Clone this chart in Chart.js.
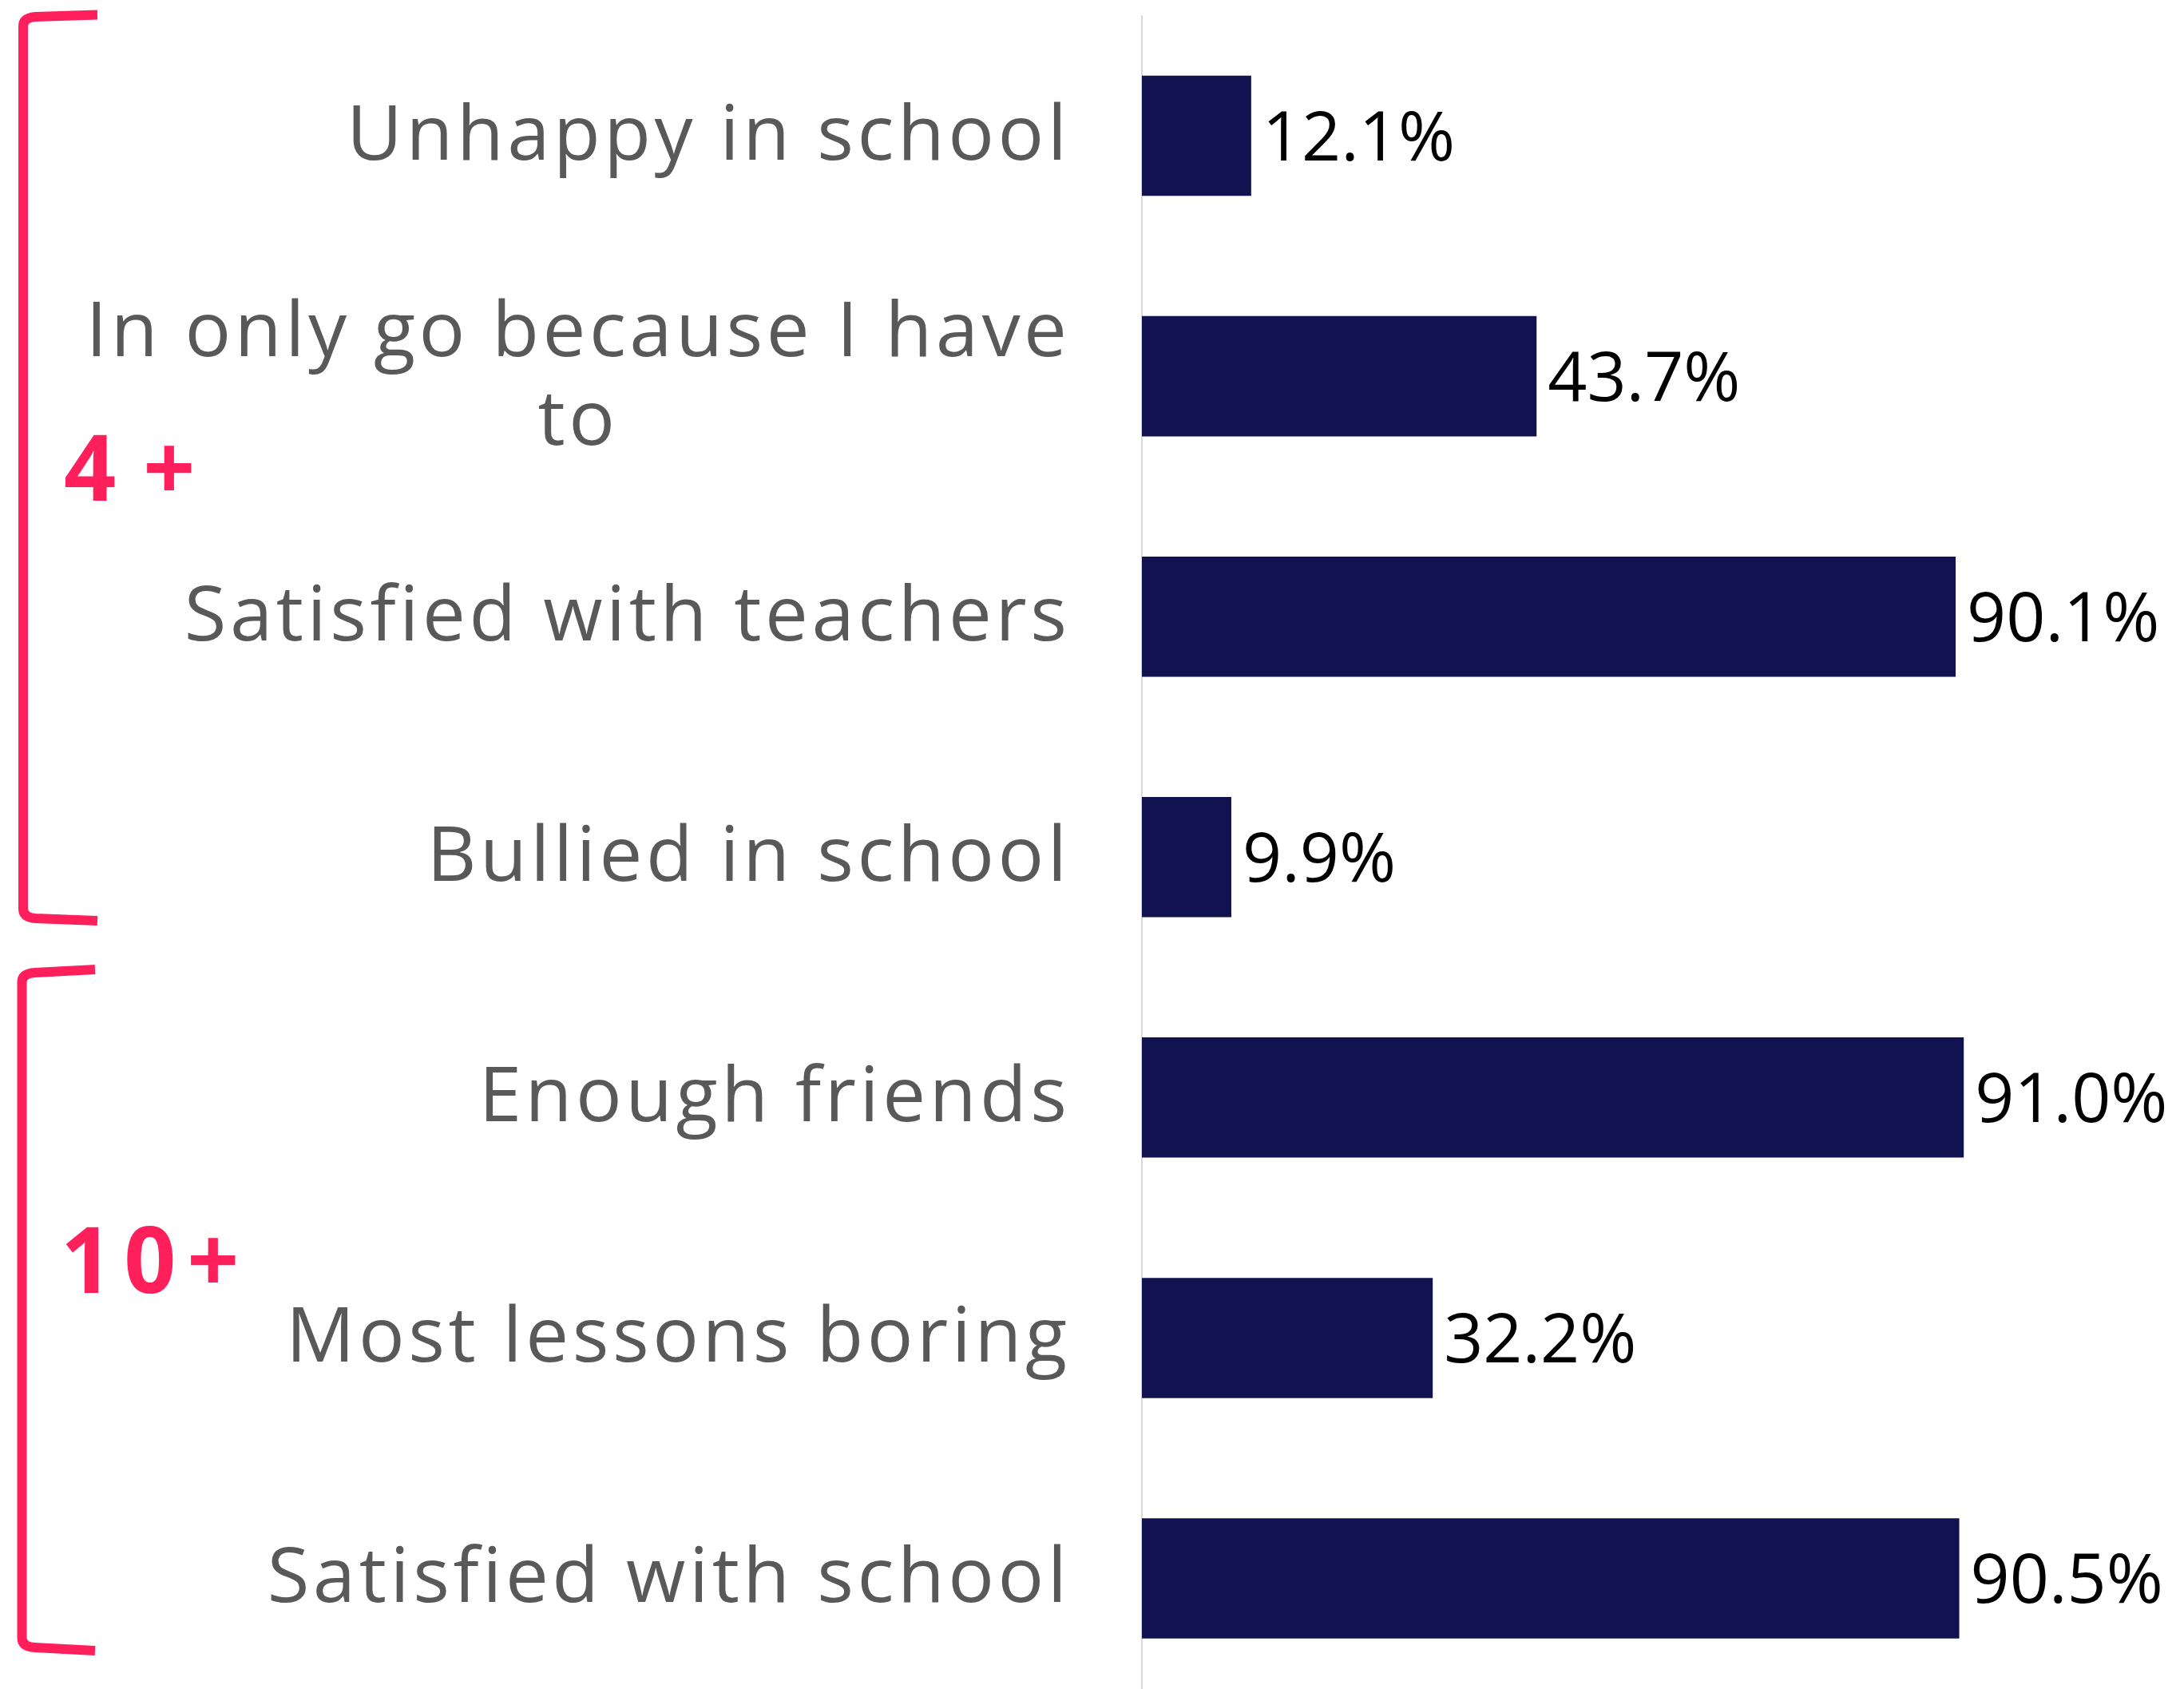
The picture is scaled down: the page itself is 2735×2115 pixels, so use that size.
<!DOCTYPE html>
<html>
<head>
<meta charset="utf-8">
<script src="https://cdn.jsdelivr.net/npm/chart.js@4.4.1/dist/chart.umd.min.js"></script>
<style>
  html, body { margin: 0; padding: 0; background: #ffffff; overflow: hidden; }
  #wrap { width: 2735px; height: 2127px; }
</style>
</head>
<body>
<div id="wrap"><canvas id="c" width="2735" height="2127"></canvas></div>
<script>
// ---- data ----
const categories = [
  "Unhappy in school",
  ["In only go because I have", "to"],
  "Satisfied with teachers",
  "Bullied in school",
  "Enough friends",
  "Most lessons boring",
  "Satisfied with school"
];
const values = [12.1, 43.7, 90.1, 9.9, 91.0, 32.2, 90.5];
const valueLabels = ["12.1%", "43.7%", "90.1%", "9.9%", "91.0%", "32.2%", "90.5%"];
const groupLabels = ["4+", "10+"];

// ---- styles ----
const BAR = "#10134F";
const PINK = "#FF1F5B";
const GREY = "#595959";

const decorPlugin = {
  id: "decor",
  afterDatasetsDraw(chart) {
    const ctx = chart.ctx;
    const y = chart.scales.y;
    const area = chart.chartArea;
    const meta = chart.getDatasetMeta(0);
    ctx.save();

    // category labels
    const labRight = area.left - 94;
    const sp = 4.5;
    ctx.font = '96px "Open Sans", "Noto Sans", sans-serif';
    try { ctx.letterSpacing = sp + "px"; } catch (e) {}
    ctx.fillStyle = GREY;
    ctx.textAlign = "left";
    ctx.textBaseline = "alphabetic";
    categories.forEach((lab, i) => {
      const lines = Array.isArray(lab) ? lab : [lab];
      const cy = y.getPixelForValue(i);
      const widths = lines.map(l => ctx.measureText(l).width - sp);
      const maxW = Math.max(...widths);
      const n = lines.length;
      lines.forEach((l, j) => {
        const base = cy + 30 + (j - (n - 1) / 2) * 111;
        let x;
        if (n === 1) x = labRight - widths[j];
        else x = labRight - maxW / 2 - widths[j] / 2;
        ctx.fillText(l, x, base);
      });
    });

    // value labels
    try { ctx.letterSpacing = "0px"; } catch (e) {}
    ctx.font = '500 86px "Open Sans", "Noto Sans", sans-serif';
    ctx.fillStyle = "#000000";
    meta.data.forEach((bar, i) => {
      ctx.fillText(valueLabels[i], bar.x + 14, bar.y + 31);
    });

    // brackets
    ctx.strokeStyle = PINK;
    ctx.lineWidth = 12;
    ctx.lineJoin = "round";
    ctx.lineCap = "butt";
    function bracket(xv, xr, top, topC, bot, botC) {
      ctx.beginPath();
      ctx.moveTo(xr, top);
      ctx.lineTo(xv + 16, topC);
      ctx.quadraticCurveTo(xv, topC + 1, xv, topC + 12);
      ctx.lineTo(xv, botC - 12);
      ctx.quadraticCurveTo(xv, botC - 1, xv + 16, botC);
      ctx.lineTo(xr, bot);
      ctx.stroke();
    }
    bracket(29, 122, 18.5, 21, 1153, 1150);
    bracket(27.5, 119, 1214, 1218, 2067, 2063);

    // group labels
    ctx.fillStyle = PINK;
    ctx.font = 'bold 114px "Open Sans", "Noto Sans", sans-serif';
    try { ctx.letterSpacing = "34px"; } catch (e) {}
    ctx.fillText(groupLabels[0], 80, 627);
    try { ctx.letterSpacing = "14px"; } catch (e) {}
    ctx.fillText(groupLabels[1], 76, 1619);

    ctx.restore();
  }
};

new Chart(document.getElementById("c"), {
  type: "bar",
  data: {
    labels: categories,
    datasets: [{
      data: values,
      backgroundColor: BAR,
      borderWidth: 0,
      barPercentage: 0.5,
      categoryPercentage: 1.0
    }]
  },
  options: {
    indexAxis: "y",
    responsive: false,
    animation: false,
    devicePixelRatio: 1,
    layout: { padding: { left: 1430, right: 174, top: 19.5, bottom: 0 } },
    plugins: { legend: { display: false }, tooltip: { enabled: false } },
    scales: {
      x: { display: false, min: 0, max: 100 },
      y: {
        display: true,
        grid: { display: false, drawTicks: false },
        ticks: { display: false },
        border: { display: true, color: "#d9d9d9", width: 2 }
      }
    }
  },
  plugins: [decorPlugin]
});
</script>
</body>
</html>
